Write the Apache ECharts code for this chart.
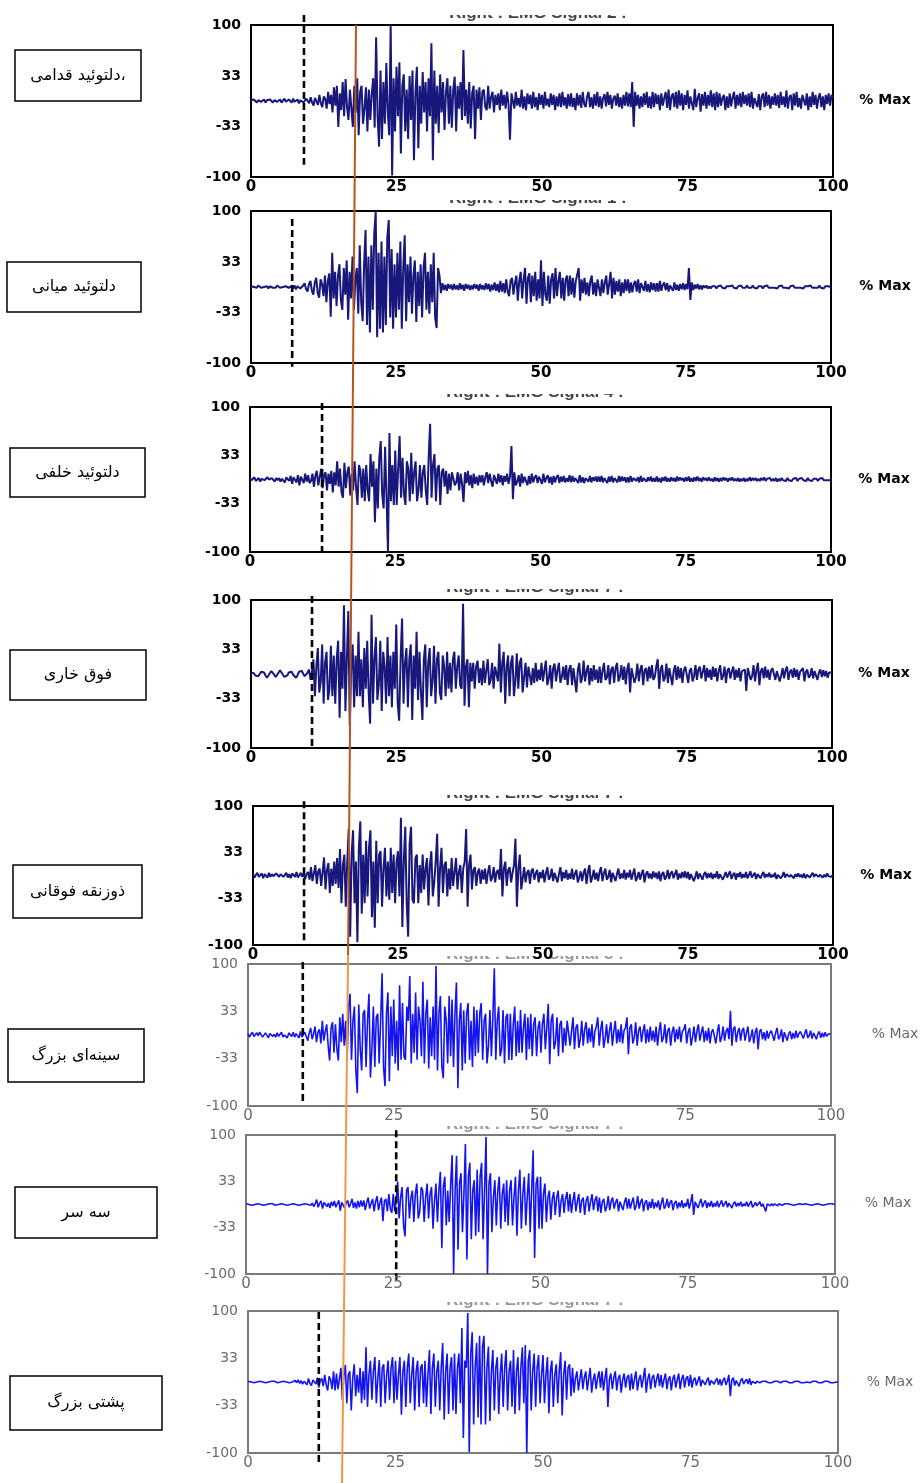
<!DOCTYPE html>
<html><head><meta charset="utf-8">
<script src="https://cdn.jsdelivr.net/npm/echarts@6/dist/echarts.min.js"></script>
<style>html,body{margin:0;padding:0;background:#fff}#c{width:924px;height:1483px}</style>
</head><body><div id="c"></div>
<script>
// ---------- DATA ----------
const STEP = 0.25; // x step (% of movement) between samples
const xTicks = [0, 25, 50, 75, 100];
const yTicks = [-100, -33, 33, 100];
const muscleLabels = ['دلتوئید قدامی،', 'دلتوئید میانی', 'دلتوئید خلفی', 'فوق خاری', 'ذوزنقه فوقانی', 'سینه‌ای بزرگ', 'سه سر', 'پشتی بزرگ'];
const signalTitles = ['Right : EMG Signal 2 :', 'Right : EMG Signal 1 :', 'Right : EMG Signal 4 :', 'Right : EMG Signal 7 :', 'Right : EMG Signal 7 :', 'Right : EMG Signal 5 :', 'Right : EMG Signal 7 :', 'Right : EMG Signal 7 :'];
const unitLabel = '% Max';

const sig1 = [
1,-1,2,0,-2,1,2,-1,0,2,-2,1,-1,2,0,-2,1,2,-1,1,
2,-2,0,3,-1,-3,2,1,-2,3,-1,0,2,-3,1,3,-2,-4,3,1,
-3,5,-2,-6,4,2,-5,8,-3,-8,6,3,-10,12,-4,8,-15,18,-6,20,
-34,10,-12,25,-20,29,-8,-25,15,-10,-34,20,-15,30,-45,12,20,-30,-10,18,
-40,15,-25,10,30,-35,84,-20,-60,40,-50,25,-30,50,-15,-45,100,-98,30,-40,
45,-20,51,-69,20,35,-40,15,-50,33,-25,40,-78,10,45,-62,20,-30,38,-15,
25,-40,30,-20,76,-78,40,-30,20,-42,35,-15,25,-38,12,30,-30,20,-35,15,
32,-40,20,-10,25,-25,67,-20,15,-30,25,-36,10,20,-50,15,-10,18,-25,12,
15,-8,-12,20,-10,5,12,-15,8,-5,10,-12,15,-6,8,-10,12,-4,-51,10,
8,-10,12,-6,4,-8,15,-10,6,-12,10,-4,8,-10,12,-8,5,-12,10,-5,
8,-10,12,-6,3,-8,10,-5,8,-12,6,-7,10,-8,12,-6,5,-10,9,-7,
10,-8,4,-12,10,-6,8,-9,12,-4,-8,6,12,-8,5,-10,9,-6,12,-8,
6,-10,4,9,-7,12,-5,8,-10,3,7,-6,10,-8,5,-10,8,-6,12,-7,
10,-8,25,-34,12,-6,8,-10,6,-8,10,-5,12,-9,6,-10,12,-8,10,-4,
8,-12,10,-6,4,12,-9,15,-12,6,10,-8,12,-10,14,-6,10,-12,8,-5,
14,-10,6,8,-12,16,-8,4,10,-14,9,-6,12,-10,8,-6,14,-8,10,-12,
12,-8,10,-6,4,8,-12,6,-9,10,-7,5,12,-10,8,-6,10,-8,12,-4,
8,-6,10,-8,12,-10,4,6,-8,9,-12,6,10,-8,12,-6,8,-10,6,-5,
10,-6,8,-9,12,-5,6,-8,14,-10,5,8,-12,10,-6,12,-8,4,-10,8,
8,-6,10,-12,6,-8,12,-5,8,-10,4,10,-8,6,-12,8,-4,10,-6,8, 4];
const sig2 = [
1,-1,0,1,-1,2,0,-1,1,0,-1,1,-2,1,0,-1,1,-1,2,0,
-1,1,0,-2,1,2,-1,0,1,-2,2,-3,1,3,-2,-4,2,5,-3,-6,
4,8,-5,-10,6,12,-8,-14,10,4,-12,15,-20,8,18,-39,45,-15,20,-25,
15,30,-18,-30,25,-10,35,-43,20,-15,40,-30,10,25,-35,55,-20,-45,30,75,
-50,40,-60,55,-30,70,99,-66,45,-55,60,-60,40,-50,65,88,-40,50,-55,30,
-40,45,-30,60,-55,25,68,-45,30,-20,40,-35,15,35,-46,20,-25,30,-40,25,
45,-30,20,-35,30,-20,45,-40,-54,25,15,-8,5,-4,3,-5,4,-2,3,-4,
4,-3,2,-4,5,-3,3,-5,4,-2,3,-4,2,-3,4,-2,3,-5,4,-3,
2,-4,5,-3,4,-6,3,-4,6,-5,4,-7,8,-6,5,-8,10,-6,-12,8,
12,-10,5,15,-18,8,20,-15,10,25,-22,12,18,-20,15,-12,20,-18,10,-15,
35,-25,20,-10,-18,15,-22,10,18,-15,25,-12,8,20,-15,12,-18,10,15,-12,
15,-10,12,-14,8,10,25,-18,10,-8,12,-10,6,-12,8,15,-10,6,-12,10,
8,-12,10,-8,6,15,-10,4,20,-15,12,-10,8,-6,10,-12,6,-8,10,-5,
10,-8,6,-7,4,8,-6,10,-8,5,6,-5,8,-6,4,-7,6,-4,5,-6,
5,-6,8,-5,3,6,-4,5,-6,2,4,-5,6,-4,3,-5,4,-3,5,-4,
4,-3,25,-17,6,-4,3,-2,4,-3,2,-3,2,-1,2,-2,1,-2,1,-1,
1,-2,1,-1,2,-1,1,-2,1,-1,1,-1,2,-1,1,-2,1,-1,2,-1,
1,-1,2,-1,1,-1,2,-1,1,-2,1,-1,1,-2,1,-1,2,-1,1,-1,
1,-1,1,-2,1,-1,2,-1,1,-1,1,-2,1,-1,2,-1,1,-1,1,-1,
1,-2,1,-1,1,-1,2,-1,1,-1,1,-1,2,-1,1,-2,1,-1,1,-1, 0];
const sig3 = [
2,-1,1,3,-2,0,2,-3,1,2,-1,-2,3,0,-2,2,1,-3,2,-1,
2,-3,1,0,-4,3,2,-2,5,-6,3,1,-4,6,-8,4,2,-5,8,-3,
6,-5,-2,8,-10,5,12,-8,3,15,-12,6,10,-15,8,-6,12,-18,10,-8,
25,-10,15,-18,-25,23,-12,10,18,-22,8,-15,25,-10,-35,20,12,-25,15,-30,
20,-15,-30,35,-10,25,-59,15,-40,30,53,-20,-40,45,-25,-100,64,-30,20,-35,
40,-35,15,60,-25,30,-20,-35,25,15,-30,37,-20,10,25,-30,-15,20,-25,10,
20,-15,-35,30,77,-25,20,35,-30,15,20,-35,10,15,-10,12,-20,8,-15,10,
12,-8,-4,10,-15,8,-6,-31,10,-5,12,-8,6,-12,8,-6,4,-8,6,-4,
6,-8,3,10,-5,8,-2,-10,6,4,-6,8,-4,6,-8,5,-3,8,-6,4,
46,-27,10,-8,-3,6,-10,8,-5,4,6,-8,5,-6,8,-4,3,6,-5,4,
5,-6,8,-4,2,6,-5,4,-7,5,-4,3,6,-5,4,-3,5,-4,2,-3,
6,-4,5,-3,2,4,-5,6,-4,3,-5,2,4,-3,5,-4,3,-2,4,-3,
4,-3,5,-4,2,3,-5,4,-3,5,-4,2,3,-4,5,-3,4,-2,3,-4,
3,-4,5,-3,2,4,-2,3,-4,5,-3,2,4,-3,3,-2,4,-3,2,-3,
4,-3,2,-4,3,-2,4,-3,2,-3,3,-2,2,-3,4,-2,3,-1,2,-3,
3,-2,4,-3,2,-3,3,-2,4,-2,2,-3,3,-1,2,-2,3,-2,1,-3,
3,-2,2,-3,2,-2,3,-1,2,-3,2,-1,3,-2,1,-2,2,-3,1,-2,
2,-3,1,-2,3,-2,2,-1,2,-2,1,-2,2,-1,3,-2,1,-1,2,-2,
1,-2,2,-3,1,-2,2,-1,1,-2,2,-1,1,-2,1,-1,2,-2,1,-1,
2,-1,1,-2,2,-1,1,-2,1,-1,1,-2,1,-1,2,-1,1,-1,1,-1, 0];
const sig4 = [
2,4,1,-2,-4,-3,0,3,5,2,-2,-5,-3,1,4,3,-1,-4,-2,2,
5,3,-1,-4,-5,-2,2,4,3,-1,-3,-5,-2,3,5,4,0,-3,-4,2,
6,-8,3,20,-30,10,35,-25,-10,40,-40,15,30,-35,-20,38,-30,25,-40,20,
45,-59,30,-20,93,-50,20,85,-70,10,40,-45,25,-30,57,-30,20,-45,35,-20,
45,-25,-67,80,-40,20,50,-35,-15,45,-50,30,10,-40,50,-30,25,-45,30,-20,
67,-40,-63,20,75,-40,15,35,-45,20,40,-62,25,-20,57,-35,30,-25,-62,20,
40,-45,15,35,-30,-10,38,-40,20,30,-25,-35,25,10,-30,30,-20,15,-25,20,
30,-20,10,25,-15,-20,95,-43,10,20,-45,15,-10,15,-20,10,18,-12,8,-15,
18,-12,5,20,-15,-8,15,-20,10,12,-10,41,-25,15,30,-40,10,25,-30,15,
25,-30,-10,28,-20,15,22,-25,-5,15,-18,10,12,-15,8,-12,15,-10,6,-8,
15,-10,5,18,-15,-6,12,-20,8,14,-10,5,15,-12,-4,10,-8,12,-15,6,
12,-15,8,10,-25,5,15,-12,-6,18,-10,4,12,-15,8,-10,12,-8,6,-12,
10,-12,4,15,-8,-5,12,-14,6,10,-12,8,15,-10,-4,12,-8,10,-14,6,
15,-25,8,10,-12,-4,14,-10,6,12,-15,5,8,-10,10,-6,12,-8,-4,10,
20,-20,6,12,-10,-5,14,-12,8,10,-15,4,12,-8,10,-6,8,-12,5,10,
10,-12,4,8,-10,-3,12,-8,6,10,-6,3,12,-10,8,-5,6,-8,10,-4,
8,-10,4,12,-8,-3,10,-12,5,8,-6,3,10,-8,6,-5,8,-10,4,6,
6,-23,8,10,-8,-3,12,-10,5,15,-15,4,8,-6,10,-5,6,-8,4,8,
10,-8,4,6,-10,-2,8,-6,5,10,-8,3,6,-5,8,-4,6,-8,3,5,
8,-10,3,6,-5,-2,8,-6,4,5,-8,2,6,-4,5,-3,4,-5,2,3, 2];
const sig5 = [
2,-3,1,4,-2,0,3,-4,2,1,-3,4,-2,2,-1,-3,3,1,-2,2,
3,-2,0,4,-3,2,-4,3,1,-2,5,-3,-1,4,-2,3,-5,2,5,-6,
12,-8,3,15,-12,6,10,-15,4,26,-20,8,18,-25,10,-15,20,-12,25,-18,
38,-40,15,30,-45,20,67,-88,30,65,-40,20,-96,40,78,-55,30,-40,50,-30,
40,65,-60,20,-75,50,-40,30,35,-45,10,40,-30,20,-35,40,-25,30,-40,20,
35,-30,83,-74,20,70,-40,-88,45,70,-35,-40,25,30,-40,15,-25,30,-20,10,
25,-43,15,35,-30,-10,20,60,-45,10,40,-25,15,20,-30,10,-20,25,-15,5,
25,-20,5,15,-25,10,20,67,-45,15,30,-20,8,12,-15,5,10,-12,8,-6,
10,-12,4,15,-8,-3,12,-10,5,8,-6,38,-30,10,20,-15,8,12,-10,4,
15,53,-45,10,30,-20,-5,12,-10,4,8,-12,6,10,-6,3,8,-10,5,-4,
8,-10,3,12,-6,-2,10,-8,4,6,-10,2,12,-8,5,-4,8,-6,3,-5,
10,-6,2,8,-10,-3,6,-8,4,10,-12,5,15,-10,-3,8,-6,4,-8,5,
12,-8,3,10,-6,-2,8,-10,4,6,-8,2,10,-5,3,-4,8,-6,4,-3,
8,-6,2,10,-8,-3,5,-6,3,8,-10,2,6,-4,3,-5,6,-3,4,-5,
6,-8,2,5,-6,-2,8,-5,3,6,-4,2,8,-6,3,-4,5,-3,6,-4,
5,-6,2,4,-8,-2,6,-5,3,4,-6,2,5,-4,3,-3,4,-5,2,-3,
6,-5,2,4,-6,-1,5,-3,2,6,-5,1,4,-6,3,-2,5,-4,2,-3,
5,-4,1,6,-3,-1,4,-5,2,3,-4,1,5,-3,2,-2,4,-3,1,-2,
4,-5,1,3,-4,-1,5,-3,2,4,-2,1,3,-4,2,-2,3,-2,1,-3,
3,-4,1,2,-3,-1,4,-2,2,3,-2,1,2,-3,1,-2,3,-1,1,-2, 1];
const sig6 = [
2,-3,1,4,-2,0,3,-1,4,2,-3,-2,3,1,-4,2,3,-2,1,-3,
3,-2,1,4,-3,0,2,-4,3,1,-2,4,-3,2,3,-4,5,-3,-2,4,
5,-8,3,10,-6,2,12,-10,4,8,-12,20,-8,5,15,-15,-36,10,18,-25,
15,-20,-36,25,-10,30,-15,20,-35,40,58,-35,20,40,-50,-82,43,-20,-50,30,
35,-45,20,58,-60,-20,40,-45,25,30,-40,20,87,-45,-72,30,60,-65,40,-30,
50,-40,20,-50,70,-35,45,-30,-35,40,20,83,-40,30,-25,60,-35,40,20,-30,
75,-40,30,50,-47,25,-30,40,-35,97,-50,30,55,-45,-61,40,20,-40,55,-30,
50,-45,30,74,-75,20,45,-50,35,-40,30,45,-35,20,-45,40,-30,35,-25,30,
45,-35,20,30,-40,-15,35,-30,25,94,-35,20,40,-30,-20,35,-40,25,30,-35,
30,-35,15,40,-30,20,-25,35,-25,10,30,-35,25,-20,30,-30,15,25,-30,10,
20,-25,15,30,-20,10,44,-41,20,30,-20,-10,25,-30,15,20,-25,10,-15,20,
20,-15,5,25,-20,10,15,-18,-5,20,-15,8,18,-12,10,-10,15,-18,5,12,
25,-15,8,20,-18,-5,15,-12,6,18,-15,5,20,-12,8,-10,15,-12,6,10,
25,-27,10,15,-12,-4,18,-15,6,12,-10,5,15,-12,8,-10,12,-8,6,-10,
12,-15,5,18,-10,-4,15,-12,6,10,-15,4,12,-10,8,-6,12,-10,5,8,
15,-12,4,10,-15,-3,12,-10,5,15,-8,3,12,-10,6,-8,10,-12,4,8,
10,-12,4,15,-10,-3,12,-8,5,10,-6,34,-15,8,12,-10,4,10,-8,6,
10,-8,3,12,-10,-3,8,-12,4,10,-20,5,8,-6,4,-8,6,-5,3,6,
6,-8,3,10,-6,-2,8,-10,4,6,-8,2,5,-6,3,-5,6,-4,2,5,
6,-5,2,8,-4,-1,6,-5,3,4,-6,2,5,-4,3,-3,4,-2,1,3, 2];
const sig7 = [
1,-1,0,1,-1,1,0,-1,1,-1,0,1,-1,1,0,-1,1,-1,1,0,
-1,1,0,-1,1,-1,0,1,-1,1,0,-1,1,-1,0,1,-1,1,0,-1,
1,-1,0,1,-1,2,-3,1,7,-4,2,5,-6,3,4,-3,2,-5,4,-2,
5,-4,1,6,-9,3,4,-5,2,6,-4,1,8,-5,3,-6,5,-4,6,-3,
6,-8,3,10,-6,2,8,-10,4,12,-8,3,10,-24,5,8,-10,15,-6,-12,
15,-10,5,33,-20,10,25,-30,-46,20,25,-20,10,20,-25,15,30,-20,-10,25,
20,-25,10,30,-20,15,25,-35,5,30,-25,20,47,-63,25,40,-30,20,-25,30,
71,-100,20,70,-65,30,45,-40,15,87,-79,40,60,-50,20,35,-45,50,-40,40,
60,-50,20,97,-100,30,45,-40,10,35,-30,20,40,-35,15,30,-25,35,-30,20,
35,-30,10,40,-45,20,50,-35,15,40,-30,10,45,-40,20,78,-77,30,40,-35,
40,-35,15,30,-25,10,20,-22,8,18,-15,10,20,-18,5,15,-12,8,18,-10,
15,-12,5,18,-10,4,15,-12,6,10,-15,5,12,-10,4,15,-8,6,12,-10,
10,-12,4,8,-10,-3,12,-8,5,10,-6,3,8,-10,4,6,-8,3,10,-6,
8,-6,3,10,-8,-2,12,-6,4,8,-10,3,6,-8,4,-5,8,-6,3,-4,
6,-8,2,10,-6,-2,8,-5,3,6,-8,2,5,-6,3,-4,6,-5,2,-3,
8,-6,3,15,-15,4,6,-5,2,8,-4,2,6,-5,3,-3,5,-4,2,-3,
5,-4,1,6,-3,-1,5,-4,2,3,-5,1,4,-3,2,-2,4,-3,1,-2,
4,-3,1,5,-4,-1,3,-2,1,4,-3,1,2,-10,1,3,-2,1,-2,1,
3,-2,1,2,-1,0,1,-1,1,-1,0,1,-1,1,0,-1,1,-1,0,1,
1,-1,0,1,-1,1,0,-1,1,-1,0,1,-1,1,0,-1,1,-1,1,0, 0];
const sig8 = [
1,-1,0,1,-1,1,0,-1,1,-1,0,1,-1,1,0,-1,1,-1,1,0,
-1,1,0,-1,1,-1,0,1,-1,1,0,-1,2,-1,3,-2,2,-3,1,3,
-4,5,-2,-5,3,5,-3,6,-8,2,5,-6,10,-4,-12,8,3,-10,15,-12,
12,-10,4,20,-25,8,24,-30,10,15,-40,5,25,-20,10,-15,20,-30,15,-25,
49,-35,10,30,-25,15,35,-30,5,31,-35,20,25,-30,10,30,-25,20,35,-30,
30,-25,10,35,-46,15,30,-35,20,40,-30,10,35,-40,15,30,-35,20,25,-30,
30,-35,10,45,-45,20,40,-35,15,30,-40,20,55,-53,15,40,-45,20,35,-40,
40,-45,20,40,-30,76,-79,30,20,97,-99,40,70,-60,20,55,-50,65,-60,50,
65,-60,20,50,-55,15,45,-40,20,35,-45,10,40,-35,20,45,-40,15,30,-35,
45,-45,15,35,-40,20,49,-30,52,-100,30,45,-40,15,40,-35,20,38,-30,10,
38,-30,10,35,-44,15,30,-35,10,25,-30,15,42,-47,10,30,-25,20,25,-20,
20,-15,5,15,-12,4,18,-10,6,15,-12,5,20,-15,3,12,-10,6,15,-8,
15,-12,5,20,-35,4,12,-10,6,15,-12,5,10,-15,3,12,-8,6,10,-12,
12,-10,4,15,-12,3,10,-8,5,20,-15,4,12,-10,6,10,-8,4,12,-6,
10,-8,3,12,-10,4,8,-12,5,10,-8,3,12,-10,4,10,-8,5,8,-6,
10,-8,3,6,-5,2,8,-6,3,5,-4,2,6,-5,2,4,-3,2,5,-4,
4,-5,2,6,-4,1,10,-20,3,6,-5,2,4,-6,2,5,-3,1,4,-3,
5,-4,1,3,-2,1,2,-1,0,1,-1,1,0,-1,1,-1,0,1,-1,1,
1,-1,0,1,-1,1,0,-1,1,-1,0,1,-1,1,0,-1,1,-1,1,0,
1,-1,0,1,-1,1,0,-1,1,-1,0,1,-1,1,0,-1,1,-1,1,0, 0];
const signals = [sig1, sig2, sig3, sig4, sig5, sig6, sig7, sig8];

// onset (dashed) markers per panel: x position and vertical extent (axis units)
const dashX = [9.1, 7.1, 12.4, 10.5, 8.8, 9.4, 25.5, 12.0];
const dashTop = [113, 89.5, 105.5, 105.4, 107, 102.8, 107, 98.6];
const dashBottom = [-84, -105, -98.6, -98.6, -100, -98.6, -114, -112.7];
// slanted reference line across all panels (x in % of panel-1 axis, y as fraction of height)
const refLineUpper = [[18.04, 0], [16.68, 0.638]];
const refLineLower = [[16.68, 0.638], [15.64, 1]];

// ---------- LAYOUT ----------
const boxes = [[251,833,25,177],[251,831,211,363],[250,831,407,552],[251,832,600,748],[253,833,806,945],[248,831,964,1106],[246,835,1135,1274],[248,838,1311,1453]];
const labelBoxes = [[15,50,126,51],[7,262,134,50],[10,448,135,49],[10,650,136,50],[13,865,129,53],[8,1029,136,53],[15,1187,142,51],[10,1376,152,54]];
const unitPos = [[885,100],[885,286],[884,479],[884,673],[886,875],[895,1034],[888,1203],[890,1382]];
const titlePos = [[538,22],[538,207],[535,401],[535,596],[535,802],[535,963],[535,1133],[535,1309]];

const grids = [], xAxes = [], yAxes = [], series = [], graphics = [];
boxes.forEach((b, i) => {
  const light = i >= 5;
  const axisCol = light ? '#7a7a7a' : '#000';
  const txtCol = light ? '#6a6a6a' : '#000';
  const lineCol = light ? '#1414ee' : '#17177c';
  const lab = {fontFamily:'DejaVu Sans', fontWeight: light ? 'normal' : 'bold', fontSize: 14, color: txtCol};
  grids.push({left:b[0], top:b[2], width:b[1]-b[0], height:b[3]-b[2], show:true, z:3, borderColor:axisCol, borderWidth:2, backgroundColor:'transparent'});
  xAxes.push({gridIndex:i, type:'value', min:0, max:100, z:10,
    axisLine:{show:false}, axisTick:{show:false}, splitLine:{show:false},
    axisLabel:Object.assign({margin:3, customValues:xTicks}, lab, {fontSize:15})});
  yAxes.push({gridIndex:i, type:'value', min:-100, max:100, z:10,
    axisLine:{show:false}, axisTick:{show:false}, splitLine:{show:false},
    axisLabel:Object.assign({margin:10, customValues:yTicks}, lab)});
  series.push({type:'line', xAxisIndex:i, yAxisIndex:i, z:5, symbol:'none', animation:false,
    lineStyle:{color:lineCol, width: light ? 1.6 : 2.0}, data:signals[i].map((v, k) => [k*STEP, v])});
  series.push({type:'line', xAxisIndex:i, yAxisIndex:i, z:6, symbol:'none', animation:false, clip:false,
    lineStyle:{color:'#000', width:2.6, type:[7,4]}, data:[[dashX[i], dashTop[i]], [dashX[i], dashBottom[i]]]});
  const lb = labelBoxes[i];
  graphics.push({type:'rect', z:3, shape:{x:lb[0], y:lb[1], width:lb[2], height:lb[3]}, style:{fill:'#fff', stroke:'#000', lineWidth:1.5}});
  graphics.push({type:'text', z:4, style:{text:muscleLabels[i], x:lb[0]+lb[2]/2, y:lb[1]+lb[3]/2, align:'center', verticalAlign:'middle', textAlign:'center', textVerticalAlign:'middle', font:'16px "DejaVu Sans"', fill:'#000'}});
  const up = unitPos[i];
  graphics.push({type:'text', z:4, style:{text:unitLabel, x:up[0], y:up[1], align:'center', verticalAlign:'middle', textAlign:'center', textVerticalAlign:'middle', font:(light?'normal ':'bold ')+'14px "DejaVu Sans"', fill:txtCol}});
  const tp = titlePos[i];
  graphics.push({type:'text', z:1, style:{text:signalTitles[i], x:tp[0], y:tp[1], align:'center', verticalAlign:'bottom', textAlign:'center', textVerticalAlign:'bottom', font:'bold 17px "Liberation Sans"', fill:light?'#999':'#444'}});
  graphics.push({type:'rect', z:2, shape:{x:tp[0]-130, y:tp[1]-24, width:260, height:17}, style:{fill:'#fff'}});
});
// overlay grid for the slanted reference line
grids.push({left:251, top:25, width:582, height:1458, show:false});
xAxes.push({gridIndex:8, type:'value', min:0, max:100, show:false});
yAxes.push({gridIndex:8, type:'value', min:0, max:1, inverse:true, show:false});
series.push({type:'line', xAxisIndex:8, yAxisIndex:8, z:20, symbol:'none', animation:false, clip:false, lineStyle:{color:'#b8541f', width:2}, data:refLineUpper});
series.push({type:'line', xAxisIndex:8, yAxisIndex:8, z:20, symbol:'none', animation:false, clip:false, lineStyle:{color:'#f29647', width:2}, data:refLineLower});

const chart = echarts.init(document.getElementById('c'), null, {renderer:'canvas'});
chart.setOption({animation:false, backgroundColor:'#fff', grid:grids, xAxis:xAxes, yAxis:yAxes, series:series, graphic:graphics});
</script></body></html>
